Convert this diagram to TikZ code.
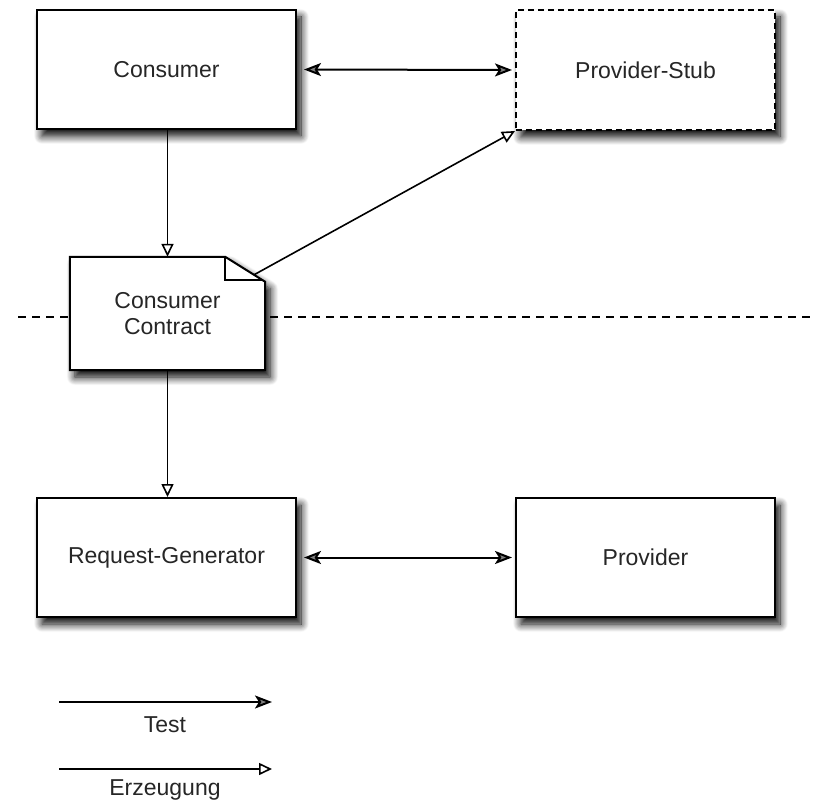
\documentclass[tikz,border=0pt]{standalone}
\usepackage{fontspec}
\setmainfont{Liberation Sans}
\usetikzlibrary{arrows.meta,shadows.blur,calc}
\begin{document}
\begin{tikzpicture}[x=1pt,y=-1pt,
  lbl/.style={font=\fontsize{23}{27}\selectfont, text=black!85},
  boxshadow/.style={blur shadow={shadow xshift=5pt, shadow yshift=-7pt, shadow blur radius=8pt, shadow opacity=100, shadow blur steps=12}},
  box/.style={draw, line width=2pt, fill=white, minimum width=259pt, minimum height=119pt, boxshadow, lbl},
  stubbox/.style={box, dash pattern=on 6pt off 4pt},
  test/.style={line width=2pt, {Stealth[length=17pt,width=13pt,inset=4pt]}-{Stealth[length=17pt,width=13pt,inset=4pt]}},
  testone/.style={line width=2pt, -{Stealth[length=17pt,width=13pt,inset=4pt]}},
  gen/.style={line width=1.6pt, -{Triangle[open,length=13pt,width=12pt,line width=1.6pt]}},
  sep/.style={line width=1.6pt, dash pattern=on 8pt off 6pt}
]
\path[use as bounding box] (0,0) rectangle (814,802);

% separator line
\coordinate (sepL) at (18,317);
\coordinate (sepR) at (814,317);
\draw[sep] (sepL) -- (sepR);

% boxes
\node[box] (consumer) at (166.5,69.5) {Consumer};
\node[stubbox, minimum height=120pt] (stub) at (645.5,70) {Provider-Stub};
\node[box] (reqgen) at (166.5,557.5) {Request-Generator};
\node[box] (provider) at (645.5,557.5) {Provider};

% document node (consumer contract)
\node[minimum width=195pt, minimum height=113pt, inner sep=0pt] (contract) at (167.5,313.5) {};
\fill[white, boxshadow]
  (contract.north west) -- ([xshift=-40pt]contract.north east) -- ([yshift=-25pt]contract.north east) -- (contract.south east) -- (contract.south west) -- cycle;
\draw[line width=2pt, line join=miter]
  (contract.north west) -- ([xshift=-40pt]contract.north east) -- ([yshift=-25pt]contract.north east) -- (contract.south east) -- (contract.south west) -- cycle;
\draw[line width=2pt]
  ([xshift=-40pt]contract.north east) -- ([xshift=-40pt,yshift=-23pt]contract.north east) -- ([xshift=-2pt,yshift=-23pt]contract.north east);
\node[lbl, align=center] (contractlabel) at (contract.center) {Consumer\\[-1pt]Contract};
\coordinate (fold) at ($([xshift=-40pt]contract.north east)!0.72!([yshift=-25pt]contract.north east)$);

% connectors
\draw[test, shorten <=7pt, shorten >=3pt] (consumer.east) -- (stub.west);
\draw[test, shorten <=7pt, shorten >=3pt] (reqgen.east) -- (provider.west);
\draw[gen] (contract.north |- consumer.south) -- (contract.north);
\draw[gen] (contract.south) -- (contract.south |- reqgen.north);
\draw[gen] (fold) -- (stub.south west);

% legend
\coordinate (t1) at (59,702);
\coordinate (t2) at (272,702);
\coordinate (e1) at (59,769);
\coordinate (e2) at (272,769);
\draw[testone] (t1) -- (t2);
\draw[gen] (e1) -- (e2);
\node[lbl] (testlbl) at (165,725) {Test};
\node[lbl] (erzlbl) at (165,790) {Erzeugung};
\end{tikzpicture}
\end{document}
